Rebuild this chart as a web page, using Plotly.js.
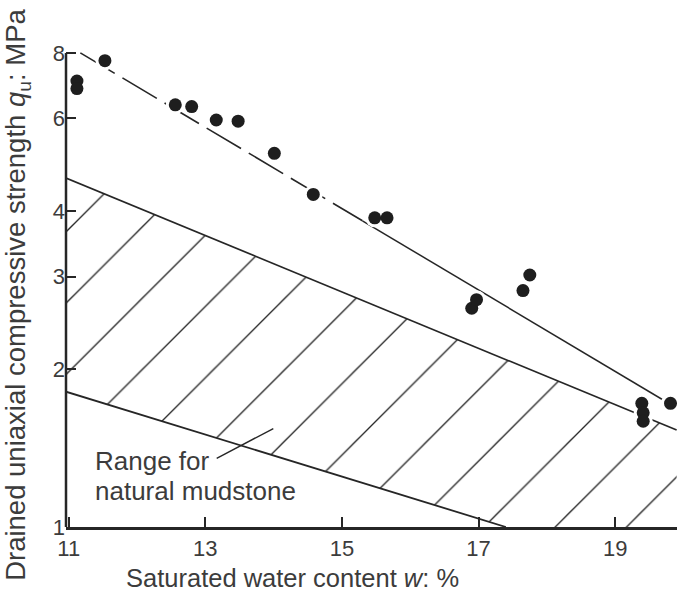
<!DOCTYPE html>
<html>
<head>
<meta charset="utf-8">
<script src="https://cdn.plot.ly/plotly-3.0.1.min.js"></script>
<style>html,body{margin:0;padding:0;background:#fff;}#chart{width:677px;height:592px;}</style>
</head>
<body>
<div id="chart"></div>
<script>
// Measured points: saturated water content w (%) vs drained UCS q_u (MPa)
const waterContent = [11.12, 11.12, 11.53, 12.56, 12.80, 13.16, 13.48, 14.01, 14.58, 15.48, 15.66, 16.90, 16.97, 17.65, 17.75, 19.39, 19.41, 19.41, 19.81];
const strength     = [7.07, 6.84, 7.73, 6.37, 6.32, 5.96, 5.93, 5.15, 4.30, 3.88, 3.88, 2.61, 2.71, 2.82, 3.02, 1.72, 1.65, 1.59, 1.72];

// Trend line through the points (dashed upper part, solid lower part)
const trendX = [11.17, 15.3, 19.9];
const trendY = [8.0, 3.83, 1.685];

// Range for natural mudstone: upper and lower bounds
const upperX = [10.96, 19.9];
const upperY = [4.62, 1.53];
const lowerX = [10.96, 17.4];
const lowerY = [1.81, 1.0];

// Axis ticks
const xTicks = [11, 13, 15, 17, 19];
const yTicks = [1, 2, 3, 4, 6, 8];
const yTickText = ['1', '2', '3', '4', '6', '8'];

const ink = '#262626';
const textCol = '#3c3c3c';
const FONT = 'Liberation Sans, Arial, Helvetica, sans-serif';

const xMax = upperX[upperX.length - 1];
const yMin = yTicks[0];

// polygon of the hatched band built from the bounds
const bandX = upperX.concat([xMax, lowerX[1]], lowerX.slice().reverse());
const bandY = upperY.concat([yMin, lowerY[1]], lowerY.slice().reverse());

const traces = [
  {x: bandX, y: bandY, type: 'scatter', mode: 'lines', fill: 'toself',
   fillcolor: 'rgba(0,0,0,0)', line: {width: 0, color: 'rgba(0,0,0,0)'},
   fillpattern: {shape: '/', size: 50.42, solidity: 0.027, fgcolor: ink, bgcolor: 'rgba(0,0,0,0)'},
   hoverinfo: 'skip', showlegend: false},
  {x: upperX, y: upperY, type: 'scatter', mode: 'lines', line: {color: ink, width: 1.6}, showlegend: false},
  {x: lowerX, y: lowerY, type: 'scatter', mode: 'lines', line: {color: ink, width: 1.8}, showlegend: false},
  {x: trendX.slice(0, 2), y: trendY.slice(0, 2), type: 'scatter', mode: 'lines',
   line: {color: ink, width: 1.6, dash: '40px,9px'}, showlegend: false},
  {x: trendX.slice(1), y: trendY.slice(1), type: 'scatter', mode: 'lines',
   line: {color: ink, width: 1.5}, showlegend: false},
  {x: waterContent, y: strength, type: 'scatter', mode: 'markers',
   marker: {color: '#ffffff', size: 19, line: {width: 0}}, showlegend: false, hoverinfo: 'skip'},
  {x: waterContent, y: strength, type: 'scatter', mode: 'markers',
   marker: {color: '#1e1e1e', size: 13, line: {width: 0}}, showlegend: false}
];

const layout = {
  width: 677, height: 592,
  margin: {l: 66, r: 0, t: 18, b: 65},
  paper_bgcolor: '#ffffff', plot_bgcolor: '#ffffff',
  font: {family: FONT, color: textCol, size: 22},
  showlegend: false,
  xaxis: {
    range: [10.96, 19.905], tickvals: xTicks, ticktext: xTicks.map(String),
    ticks: 'inside', ticklen: 10, tickwidth: 2, tickcolor: ink,
    showline: true, linecolor: ink, linewidth: 2.5, showgrid: false, zeroline: false,
    tickfont: {size: 22, color: textCol}
  },
  yaxis: {
    type: 'log', range: [0, 0.9695], tickvals: yTicks, ticktext: yTickText,
    ticks: 'inside', ticklen: 10, tickwidth: 2, tickcolor: ink,
    showline: false, showgrid: false, zeroline: false,
    tickfont: {size: 22, color: textCol}
  },
  shapes: [
    // y-axis line from 1 to 8 MPa
    {type: 'line', xref: 'paper', yref: 'paper', x0: 0, x1: 0, y0: 0, y1: 0.903 / 0.9695,
     line: {color: ink, width: 2.5}},
    // leader for the label
    {type: 'line', xref: 'paper', yref: 'paper', x0: 0.2466, y0: 0.1347, x1: 0.3393, y1: 0.1935,
     line: {color: ink, width: 1.4}}
  ],
  annotations: [
    {xref: 'paper', yref: 'paper', x: 0.3715, y: -0.1002, xanchor: 'center', yanchor: 'middle',
     showarrow: false, text: 'Saturated water content <i>w</i>: %', font: {size: 25.5, color: textCol}},
    {xref: 'paper', yref: 'paper', x: -0.0786, y: 0.456, xanchor: 'center', yanchor: 'middle',
     textangle: -90, showarrow: false,
     text: 'Drained uniaxial compressive strength <i>q</i><sub>u</sub>: MPa', font: {size: 27.5, color: textCol}},
    {xref: 'paper', yref: 'paper', x: 0.044, y: 0.1297, xanchor: 'left', yanchor: 'middle', align: 'left',
     showarrow: false, text: 'Range for', font: {size: 26, color: textCol}},
    {xref: 'paper', yref: 'paper', x: 0.044, y: 0.0707, xanchor: 'left', yanchor: 'middle', align: 'left',
     showarrow: false, text: 'natural mudstone', font: {size: 26, color: textCol}}
  ]
};

Plotly.newPlot('chart', traces, layout, {staticPlot: true, displayModeBar: false});
</script>
</body>
</html>
